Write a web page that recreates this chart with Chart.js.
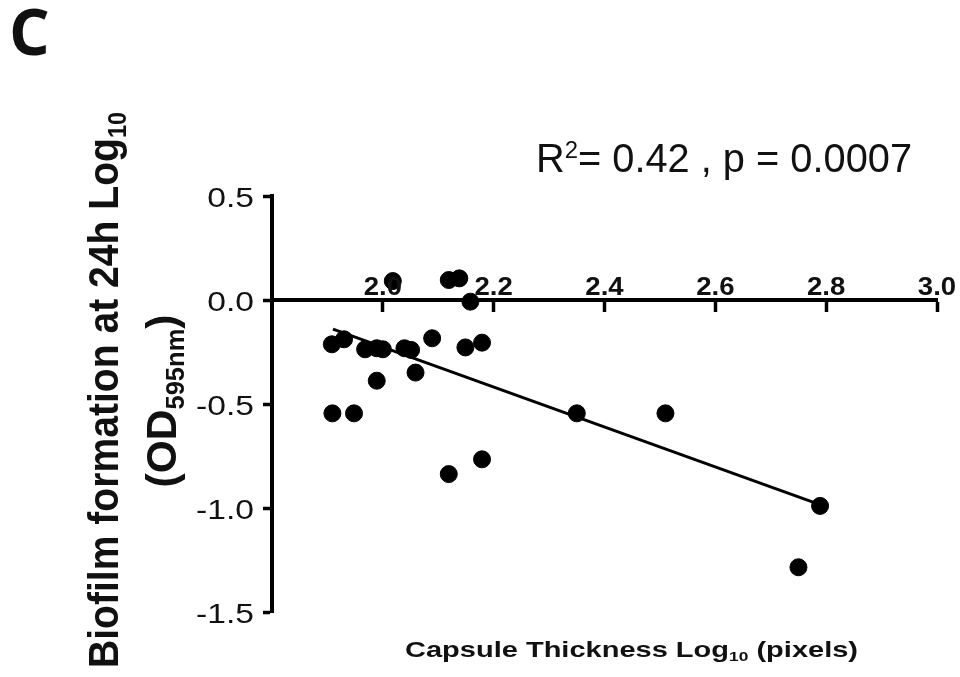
<!DOCTYPE html>
<html>
<head>
    <style>
        body, html {
            margin: 0;
            background: white;
        }
        #wrap {
            width: 960px;
            height: 677px;
            position: relative;
        }
    </style>
    <script src="https://cdn.jsdelivr.net/npm/chart.js"></script>
</head>
<body>
    <div id="wrap">
        <canvas id="biofilmChart"></canvas>
    </div>

    <script>
        // values
        const capsuleThickness = [1.908, 1.930, 1.968, 1.989, 2.000, 1.989, 1.909, 1.948, 2.039, 2.051, 2.059, 2.089,
                                  2.149, 2.179, 2.158, 2.119, 2.179, 2.018, 2.119, 2.138, 2.350, 2.510, 2.789, 2.750];
        const biofilmOD = [-0.213, -0.189, -0.237, -0.232, -0.237, -0.388, -0.545, -0.545, -0.232, -0.240, -0.349, -0.184,
                           -0.228, -0.205, -0.008, -0.837, -0.766, 0.091, 0.096, 0.104, -0.545, -0.545, -0.990, -1.285];
        const fitX = [1.91, 2.79];
        const fitY = [-0.14, -0.985];
        const xTicks = [2.0, 2.2, 2.4, 2.6, 2.8, 3.0];
        const yTicks = [0.5, 0.0, -0.5, -1.0, -1.5];

        const FONT = '"Liberation Sans", Arial, sans-serif';

        // draws text made of normal / sub / sup parts, squeezed or stretched to a given width
        function drawRich(ctx, parts, o) {
            const fontFor = s => `${o.weight || 'normal'} ${s}px ${o.family || FONT}`;
            let natural = 0;
            const segs = parts.map(([t, k]) => {
                const s = k ? o.size * 0.6 : o.size;
                ctx.font = fontFor(s);
                const w = ctx.measureText(t).width;
                natural += w;
                return {t, k, s, w};
            });
            const sx = o.width ? o.width / natural : (o.sx || 1);
            const total = natural * sx;
            ctx.save();
            ctx.translate(o.x, o.y);
            if (o.rotate) ctx.rotate(o.rotate);
            const start = o.align === 'center' ? -total / 2 : o.align === 'right' ? -total : 0;
            ctx.translate(start, 0);
            ctx.scale(sx, 1);
            ctx.fillStyle = o.color || '#111';
            ctx.textBaseline = 'alphabetic';
            ctx.textAlign = 'left';
            let cx = 0;
            segs.forEach(g => {
                ctx.font = fontFor(g.s);
                const dy = g.k === 'sub' ? o.size * 0.18 : g.k === 'sup' ? -o.size * 0.36 : 0;
                ctx.fillText(g.t, cx, dy);
                cx += g.w;
            });
            ctx.restore();
        }

        const textPlugin = {
            id: 'figureText',
            afterDraw(chart) {
                const ctx = chart.ctx;
                const xs = chart.scales.x, ys = chart.scales.y;
                const axisY = ys.getPixelForValue(0);

                // tick labels from the scales
                ys.ticks.forEach(t => {
                    drawRich(ctx, [[t.value.toFixed(1), '']], {
                        x: 254, y: ys.getPixelForValue(t.value) + 11, size: 28, sx: 1.2, align: 'right'
                    });
                });
                xs.ticks.forEach(t => {
                    drawRich(ctx, [[t.value.toFixed(1), '']], {
                        x: xs.getPixelForValue(t.value), y: axisY - 5, size: 26, weight: 'bold', sx: 1.06, align: 'center'
                    });
                });

                // axis titles
                drawRich(ctx, [['Biofilm formation at 24h Log', ''], ['10', 'sub']], {
                    x: 118, y: 390, size: 42, weight: 'bold', width: 556, align: 'center', rotate: -Math.PI / 2
                });
                drawRich(ctx, [['(OD', ''], ['595nm', 'sub'], [')', '']], {
                    x: 176, y: 401, size: 42, weight: 'bold', width: 173, align: 'center', rotate: -Math.PI / 2
                });
                drawRich(ctx, [['Capsule Thickness Log', ''], ['10', 'sub'], [' (pixels)', '']], {
                    x: 405, y: 657, size: 22, weight: 'bold', width: 453
                });

                // stats + panel letter
                drawRich(ctx, [['R', ''], ['2', 'sup'], ['= 0.42 , p = 0.0007', '']], {
                    x: 536, y: 172, size: 40, width: 376
                });
                drawRich(ctx, [['C', '']], {
                    x: 9, y: 55, size: 64, weight: 'bold', family: '"Open Sans", "Noto Sans", sans-serif'
                });
            }
        };

        const ctx = document.getElementById('biofilmChart').getContext('2d');
        const chart = new Chart(ctx, {
            type: 'scatter',
            data: {
                datasets: [{
                    label: 'isolates',
                    data: capsuleThickness.map((x, i) => ({x: x, y: biofilmOD[i]})),
                    backgroundColor: '#000',
                    borderColor: '#000',
                    pointRadius: 8.5,
                    pointHoverRadius: 8.5,
                    order: 1
                }, {
                    type: 'line',
                    label: 'fit',
                    data: fitX.map((x, i) => ({x: x, y: fitY[i]})),
                    borderColor: '#000',
                    borderWidth: 3,
                    pointRadius: 0,
                    fill: false,
                    order: 2
                }]
            },
            options: {
                responsive: true,
                maintainAspectRatio: false,
                animation: false,
                layout: {
                    padding: {left: 0, right: 23, top: 196, bottom: 65}
                },
                plugins: {
                    legend: {display: false},
                    tooltip: {enabled: false}
                },
                scales: {
                    x: {
                        type: 'linear',
                        position: {y: 0},
                        min: 1.8,
                        max: 3.0,
                        afterBuildTicks: s => { s.ticks = xTicks.map(v => ({value: v})); },
                        ticks: {display: false},
                        grid: {
                            drawOnChartArea: false,
                            drawTicks: true,
                            tickLength: 10,
                            tickWidth: 3.5,
                            tickColor: '#000',
                            color: '#000'
                        },
                        border: {display: true, width: 4, color: '#000'}
                    },
                    y: {
                        type: 'linear',
                        position: 'left',
                        min: -1.5,
                        max: 0.5,
                        afterBuildTicks: s => { s.ticks = yTicks.map(v => ({value: v})); },
                        afterFit: s => { s.width = 272; },
                        ticks: {display: false},
                        grid: {
                            drawOnChartArea: false,
                            drawTicks: true,
                            tickLength: 9,
                            tickWidth: 3.5,
                            tickColor: '#000',
                            color: '#000'
                        },
                        border: {display: true, width: 4, color: '#000'}
                    }
                }
            },
            plugins: [textPlugin]
        });
    </script>
</body>
</html>
